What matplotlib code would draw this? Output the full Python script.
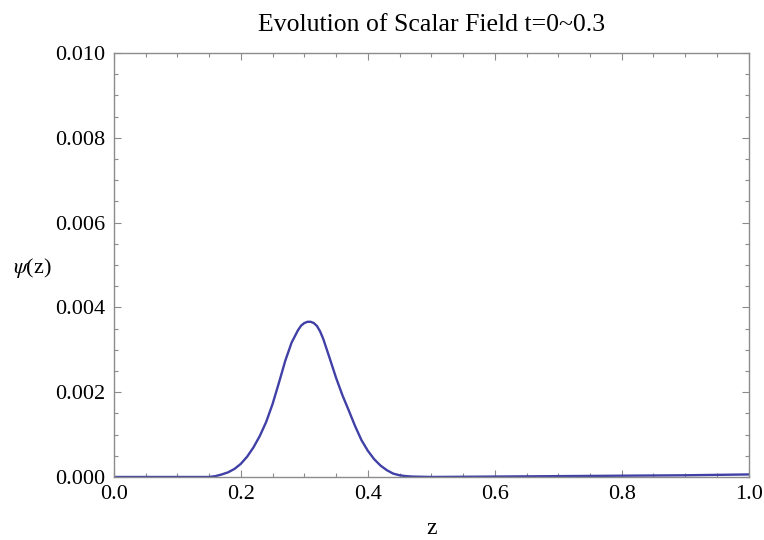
import matplotlib
matplotlib.use('Agg')
import matplotlib.pyplot as plt
from matplotlib.ticker import MultipleLocator, FormatStrFormatter

plt.rcParams['font.family'] = ['Liberation Serif', 'DejaVu Serif']
plt.rcParams['mathtext.fontset'] = 'stix'

# values
z_vals = [0.0, 0.05, 0.10, 0.15, 0.16, 0.17, 0.18, 0.19, 0.20, 0.21, 0.22,
          0.23, 0.24, 0.25, 0.26, 0.27, 0.28, 0.29, 0.295, 0.30, 0.305,
          0.31, 0.315, 0.32, 0.325, 0.33, 0.34, 0.35, 0.36, 0.37, 0.38,
          0.39, 0.40, 0.41, 0.42, 0.43, 0.44, 0.45, 0.46, 0.47, 0.50,
          0.60, 0.70, 0.80, 0.90, 1.0]
psi_vals = [0.0, 0.0, 0.0, 0.0, 0.00002, 0.00006, 0.00011, 0.00019, 0.00031, 0.00048, 0.00070,
            0.00097, 0.00130, 0.00172, 0.00222, 0.00274, 0.00317, 0.00346, 0.00357, 0.00363, 0.00366,
            0.00366, 0.00363, 0.00356, 0.00343, 0.00325, 0.00280, 0.00234, 0.00193, 0.00157, 0.00120,
            0.00087, 0.00062, 0.00042, 0.00027, 0.00016, 0.00008, 0.00004, 0.00002, 0.00001, 0.0,
            0.00001, 0.00002, 0.00003, 0.00004, 0.00006]

title = 'Evolution of Scalar Field t=0~0.3'
frame_col = '#8c8c8c'
line_col = '#4040a6'

fig = plt.figure(figsize=(7.64, 5.40), dpi=100)
ax = fig.add_axes([0.149, 0.1167, 0.831, 0.7852])

ax.plot(z_vals, psi_vals, color=line_col, lw=1.7, solid_joinstyle='round')

ax.set_xlim(0, 1.0)
ax.set_ylim(0, 0.010)
ax.xaxis.set_major_locator(MultipleLocator(0.2))
ax.xaxis.set_minor_locator(MultipleLocator(0.05))
ax.yaxis.set_major_locator(MultipleLocator(0.002))
ax.yaxis.set_minor_locator(MultipleLocator(0.0005))
ax.xaxis.set_major_formatter(FormatStrFormatter('%.1f'))
ax.yaxis.set_major_formatter(FormatStrFormatter('%.3f'))

for s in ax.spines.values():
    s.set_color(frame_col)
    s.set_linewidth(1.0)

ax.tick_params(which='both', direction='in', color=frame_col, top=True, right=True,
               labelsize=16, width=0.8)
ax.tick_params(which='major', length=5, pad=6)
ax.tick_params(which='minor', length=3)

ax.set_title(title, fontsize=18.5, pad=16)
ax.set_xlabel('z', fontsize=17, labelpad=10)
ax.set_ylabel(r'$\psi$(z)', fontsize=16, rotation=0, va='center')
ax.yaxis.set_label_coords(-0.128, 0.493)

fig.savefig('out.png', dpi=100)
